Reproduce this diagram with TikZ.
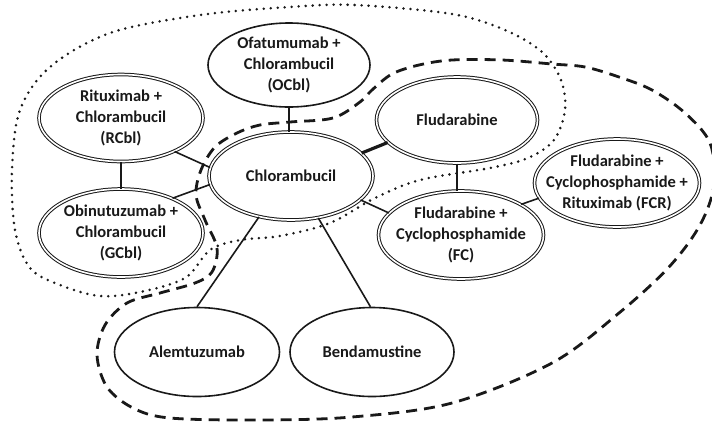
\documentclass[tikz,border=0pt]{standalone}
\usepackage{fontspec}
\setmainfont{Carlito}
\usetikzlibrary{shapes.geometric}
\begin{document}
\begin{tikzpicture}[x=1pt,y=-1pt,
  ell/.style={ellipse, draw=black!90, line width=1.6pt, inner sep=0pt},
  dbl/.style={ellipse, draw=black!90, line width=1pt, double, double distance=1.6pt, inner sep=0pt},
  txt/.style={font=\fontsize{16.5}{21}\selectfont\bfseries, text=black!90, align=center, inner sep=0pt},
  link/.style={draw=black!90, line width=1.6pt},
  heavylink/.style={draw=black!90, line width=3.2pt},
  dotreg/.style={draw=black!90, line width=2.8pt, dash pattern=on 0pt off 7pt, line cap=round},
  dashreg/.style={draw=black!90, line width=2.8pt, dash pattern=on 11pt off 7pt}]
\useasboundingbox (0,0) rectangle (712,421);

% regions
\draw[dotreg] plot[smooth cycle, tension=0.55] coordinates {
 (355,5) (452,14) (505,30) (542,52) (561,80) (565,110) (554,140) (528,158)
 (490,168) (420,180) (375,198) (330,223) (280,236) (240,240) (210,250)
 (185,278) (140,292) (100,296) (60,285) (30,268) (15,230) (12,170) (20,110)
 (50,67) (110,33) (200,15) (290,7)};
\draw[dashreg] plot[smooth cycle, tension=0.55] coordinates {
 (360,102) (333,118) (290,122) (260,125) (237,133) (215,147) (201,170)
 (196,195) (205,220) (217,248) (212,272) (195,283) (160,293) (127,303)
 (105,325) (97,355) (107,387) (133,408) (170,418) (260,420) (352,417)
 (452,403) (552,363) (619,313) (669,267) (700,225) (714,185) (710,143)
 (685,113) (652,90) (619,77) (585,67) (552,64) (502,60) (452,60) (419,65)
 (392,74) (372,90)};

% nodes
\node[ell, minimum width=162pt, minimum height=84pt] (ocbl) at (289,65) {};
\node[dbl, minimum width=164pt, minimum height=87pt] (rcbl) at (121,118) {};
\node[dbl, minimum width=164pt, minimum height=88pt] (chl) at (291,176) {};
\node[dbl, minimum width=164pt, minimum height=88pt] (gcbl) at (121,233) {};
\node[dbl, minimum width=161pt, minimum height=86pt] (flu) at (457,120) {};
\node[dbl, minimum width=165pt, minimum height=88pt] (fc) at (461,235) {};
\node[dbl, minimum width=165pt, minimum height=88pt] (fcr) at (617,183) {};
\node[ell, minimum width=165pt, minimum height=89pt] (alem) at (197,352) {};
\node[ell, minimum width=164pt, minimum height=89pt] (bend) at (372,352) {};

\node[txt] (ocblt) at (ocbl) {Ofatumumab +\\Chlorambucil\\(OCbl)};
\node[txt] (rcblt) at (rcbl) {Rituximab +\\Chlorambucil\\(RCbl)};
\node[txt] (chlt) at (chl) {Chlorambucil};
\node[txt] (gcblt) at (gcbl) {Obinutuzumab +\\Chlorambucil\\(GCbl)};
\node[txt] (flut) at (flu) {Fludarabine};
\node[txt] (fct) at (fc) {Fludarabine +\\Cyclophosphamide\\(FC)};
\node[txt] (fcrt) at (fcr) {Fludarabine +\\Cyclophosphamide +\\Rituximab (FCR)};
\node[txt] (alemt) at (alem) {Alemtuzumab};
\node[txt] (bendt) at (bend) {Bendamustine};

% connectors
\draw[link] (ocbl.south) -- (ocbl.south |- chl.north);
\draw[link] (rcbl.-32) -- (chl.174);
\draw[link] (gcbl.34) -- (chl.186);
\draw[link] (rcbl.south) -- (rcbl.south |- gcbl.north);
\draw[heavylink] (chl.18) -- (flu.198);
\draw[link] (flu.south) -- (flu.south |- fc.north);
\draw[link] (chl.-19) -- (fc.163);
\draw[link] (fc.27) -- (fcr.191);
\draw[link] (chl.-128) -- (alem.north);
\draw[link] (chl.-57) -- (bend.92);
\end{tikzpicture}
\end{document}
